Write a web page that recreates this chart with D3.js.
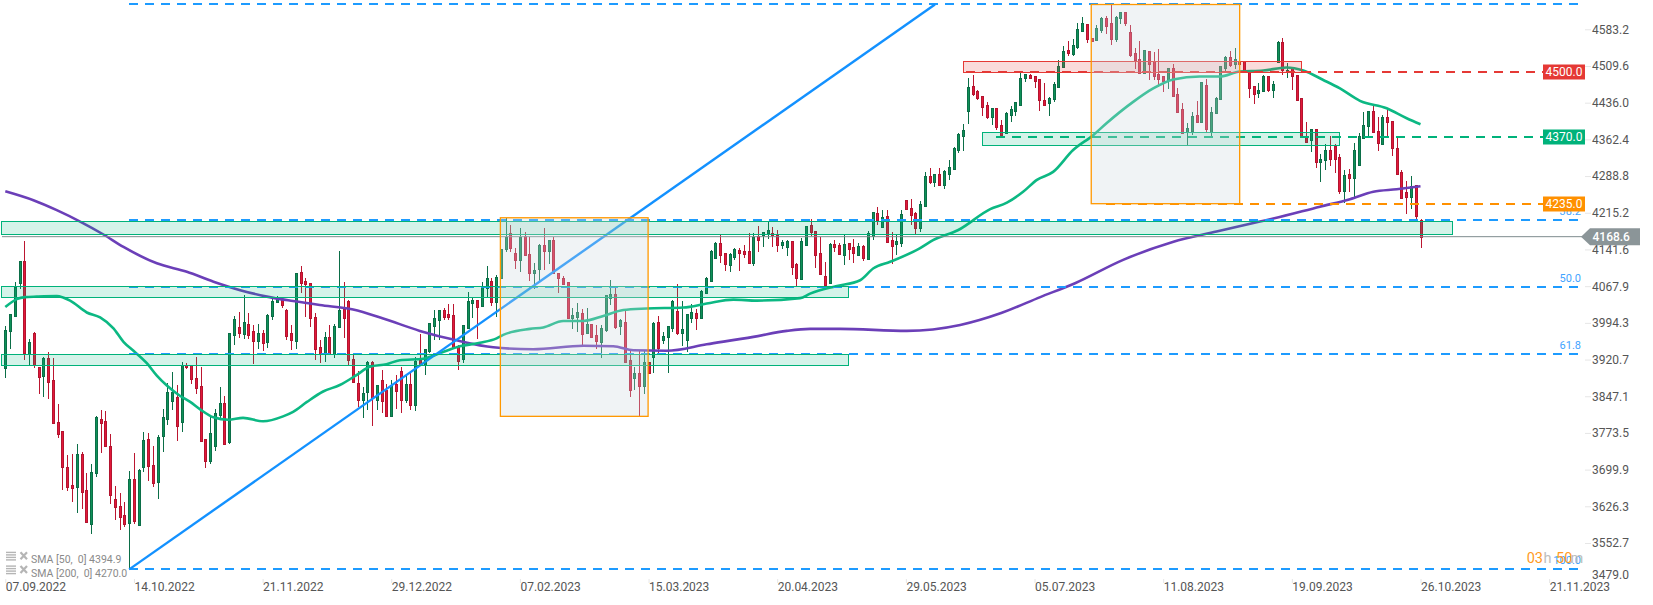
<!DOCTYPE html>
<html><head><meta charset="utf-8">
<style>html,body{margin:0;padding:0;background:#fff;overflow:hidden}svg{display:block}text{font-family:Roboto,sans-serif}</style>
<script src="https://cdn.jsdelivr.net/npm/d3@7"></script>
</head><body><svg id="c" width="1653" height="605"></svg>
<script>
const opens=[3905,3979,4009,4076,4119,3932,3974,3906,3889,3924,
3880,3795,3777,3706,3669,3665,3731,3659,3591,3693,
3801,3797,3747,3640,3626,3608,3593,3681,3589,3705,
3761,3709,3675,3768,3801,3838,3846,3796,3911,3910,
3885,3868,3761,3718,3748,3810,3833,3755,3971,3986,
3973,3992,3978,3959,3974,3957,4008,4038,4041,4022,
3974,3959,4097,4079,4075,4006,3946,3934,3966,3932,
3987,4023,4039,3922,3875,3840,3855,3916,3840,3880,
3860,3808,3872,3898,3840,3872,3830,3920,3910,3938,
3989,4001,4021,4013,4010,3946,3923,3985,4036,4041,
4029,4065,4079,4038,4085,4144,4177,4135,4122,4169,
4133,4096,4104,4151,4140,4161,4095,4085,4077,4005,
4007,4016,3974,3993,3971,3957,3981,4046,4054,3989,
3997,3920,3885,3895,3869,3916,3927,3996,3961,3966,
3984,4020,3975,3960,4005,4014,4005,4056,4079,4125,
4156,4135,4112,4128,4142,4140,4139,4116,4170,4172,
4177,4177,4172,4152,4148,4160,4113,4083,4151,4192,
4181,4135,4089,4076,4153,4152,4132,4155,4147,4132,
4150,4124,4170,4216,4189,4210,4162,4154,4156,4242,
4226,4217,4187,4231,4290,4279,4295,4273,4295,4305,
4343,4372,4422,4472,4462,4451,4434,4410,4427,4393,
4377,4414,4422,4434,4487,4494,4493,4485,4444,4438,
4446,4470,4511,4544,4536,4551,4583,4596,4568,4564,
4584,4608,4598,4566,4609,4621,4581,4538,4526,4499,
4542,4522,4496,4492,4484,4509,4456,4425,4379,4381,
4413,4399,4473,4379,4417,4445,4509,4530,4516,4522,
4523,4501,4471,4458,4462,4492,4464,4521,4560,4501,
4511,4494,4447,4372,4363,4385,4319,4323,4344,4352,
4328,4260,4294,4287,4313,4368,4392,4421,4382,4356,
4409,4401,4348,4298,4258,4249,4273,4203];
const closes=[3981,4012,4068,4119,3935,3956,3910,3887,3924,3877,
3794,3772,3705,3665,3663,3731,3655,3595,3694,3805,
3794,3748,3649,3625,3605,3591,3680,3597,3699,3759,
3708,3673,3765,3805,3855,3855,3788,3911,3907,3883,
3865,3758,3717,3773,3813,3833,3751,3974,4002,3974,
3996,3971,3959,3974,3955,4010,4040,4046,4032,3969,
3961,4095,4076,4073,4005,3943,3932,3966,3934,3989,
4022,4005,3920,3877,3840,3853,3916,3844,3871,3837,
3808,3871,3858,3840,3872,3830,3918,3910,3942,3994,
4004,4021,4007,4007,3947,3919,3990,4039,4041,4027,
4068,4085,4038,4087,4143,4168,4146,4122,4168,4132,
4096,4101,4151,4140,4161,4095,4086,4074,4005,4010,
4017,3973,3993,3967,3959,3984,4051,4054,3986,4001,
3917,3860,3895,3869,3916,3894,3994,3945,3969,3988,
4039,3975,3983,4012,4017,4005,4060,4085,4140,4156,
4132,4114,4134,4143,4136,4134,4116,4168,4162,4179,
4182,4172,4152,4158,4160,4108,4085,4160,4191,4178,
4132,4093,4071,4153,4148,4133,4154,4144,4136,4150,
4126,4177,4218,4202,4209,4157,4150,4160,4215,4224,
4212,4187,4234,4290,4279,4295,4273,4301,4308,4348,
4375,4383,4469,4456,4448,4430,4410,4427,4390,4373,
4417,4425,4439,4489,4496,4489,4482,4444,4433,4448,
4476,4512,4542,4539,4554,4587,4598,4566,4563,4589,
4608,4593,4566,4610,4620,4599,4534,4524,4498,4544,
4516,4492,4486,4482,4509,4452,4419,4377,4387,4411,
4399,4479,4385,4419,4447,4512,4530,4515,4526,4517,
4501,4468,4456,4464,4492,4464,4476,4560,4505,4505,
4493,4444,4370,4360,4385,4319,4324,4344,4325,4325,
4260,4293,4287,4344,4371,4393,4421,4380,4358,4409,
4400,4348,4295,4247,4249,4271,4211,4168.6];
const highs=[3989,4013,4077,4120,4160,3962,3977,3906,3926,3936,
3924,3832,3777,3729,3731,3751,3735,3693,3711,3807,
3820,3818,3771,3667,3653,3634,3696,3733,3701,3775,
3773,3747,3769,3822,3874,3896,3870,3916,3914,3910,
3926,3906,3761,3806,3822,3866,3848,3975,4009,4017,
4051,4014,3991,3992,3981,4013,4043,4049,4047,4023,
3991,4096,4109,4085,4075,4014,3961,3976,3991,3993,
4140,4077,4042,3934,3898,3867,3919,3918,3871,3900,
3873,3881,3890,3907,3890,3897,3927,3972,3942,3994,
4021,4021,4026,4034,4033,3950,3990,4057,4046,4041,
4077,4109,4085,4091,4143,4207,4192,4145,4187,4179,
4168,4116,4153,4186,4161,4167,4095,4090,4077,4025,
4035,4024,4025,3993,3990,3991,4052,4081,4065,4003,
4019,3940,3907,3940,3940,3916,3997,4009,3977,3988,
4042,4073,4039,4012,4033,4024,4061,4087,4142,4158,
4173,4135,4135,4145,4145,4152,4177,4177,4190,4179,
4199,4189,4182,4162,4162,4160,4116,4165,4191,4205,
4181,4168,4117,4155,4162,4155,4172,4155,4164,4155,
4152,4180,4218,4228,4222,4222,4179,4175,4222,4242,
4244,4219,4240,4298,4306,4295,4306,4303,4323,4350,
4377,4395,4487,4494,4464,4451,4439,4427,4427,4403,
4420,4432,4439,4499,4496,4496,4493,4485,4477,4450,
4479,4524,4552,4562,4566,4598,4610,4596,4568,4595,
4610,4613,4635,4613,4620,4621,4595,4548,4562,4544,
4542,4541,4546,4492,4509,4517,4467,4437,4398,4420,
4442,4479,4486,4430,4449,4512,4532,4542,4548,4532,
4523,4501,4471,4477,4494,4492,4482,4563,4568,4518,
4511,4494,4447,4399,4385,4385,4336,4356,4371,4356,
4336,4303,4305,4358,4377,4419,4421,4432,4410,4413,
4424,4401,4370,4303,4281,4291,4273,4205];
const lows=[3884,3942,4007,4063,3920,3910,3905,3852,3846,3842,
3791,3763,3659,3657,3634,3612,3620,3594,3570,3685,
3733,3747,3631,3598,3579,3584,3499,3590,3588,3695,
3677,3665,3641,3736,3789,3820,3758,3776,3902,3872,
3852,3755,3704,3711,3738,3800,3749,3751,3950,3965,
3962,3963,3912,3942,3938,3945,4001,4038,4025,3961,
3940,3942,4056,4006,3987,3920,3915,3916,3934,3924,
3984,3964,3910,3877,3825,3804,3820,3788,3820,3813,
3806,3806,3822,3814,3833,3820,3818,3910,3891,3935,
3960,3960,4001,4001,3944,3900,3914,3982,4005,3962,
4027,4045,4030,4007,4085,4138,4138,4103,4098,4132,
4079,4063,4079,4101,4114,4093,4056,4074,4003,3983,
3977,3949,3973,3965,3942,3925,3977,4031,3982,3971,
3917,3846,3860,3807,3852,3894,3895,3934,3952,3895,
3977,3971,3949,3937,3994,3981,4005,4053,4078,4124,
4116,4099,4098,4122,4099,4125,4114,4109,4138,4148,
4164,4148,4138,4144,4130,4091,4068,4083,4150,4170,
4106,4093,4065,4075,4138,4132,4112,4122,4116,4130,
4120,4122,4162,4192,4187,4155,4114,4132,4148,4222,
4192,4175,4179,4231,4275,4269,4271,4265,4283,4305,
4338,4342,4395,4452,4444,4411,4406,4393,4383,4372,
4375,4400,4412,4434,4480,4489,4468,4422,4433,4411,
4440,4470,4511,4532,4533,4546,4583,4559,4563,4562,
4579,4576,4555,4561,4597,4593,4530,4507,4496,4499,
4484,4484,4470,4460,4466,4450,4417,4377,4352,4373,
4399,4399,4379,4367,4415,4445,4501,4511,4507,4514,
4501,4447,4436,4448,4459,4460,4448,4521,4495,4489,
4464,4444,4370,4360,4340,4307,4279,4303,4311,4297,
4254,4237,4258,4246,4313,4368,4370,4380,4341,4356,
4370,4332,4293,4247,4214,4224,4204,4146];

const sma50Idx=[0,2.4,4.1,6.6,10.8,13.6,17.1,19.9,22.7,24.8,26.9,29.7,31.8,33.9,36.7,38.8,40.9,43.7,46.8,49.9,54.1,58.3,60.4,63.3,66.7,70.2,73.7,76.5,80,82.8,87.7,91.2,95.4,99.6,103.1,104.5,110.1,112.9,117.1,121.3,125.5,129.7,134.6,142.3,147.2,152.8,157.7,166.8,168.9,174.3,179.4,182.2,185.7,191.9,194.8,200,206.7,210.2,213.6,216.5,219.9,224.1,228.3,231.1,236.7,240.9,245.1,250.7,254.9,259.1,264,268.9,272.4,276.6,280.1,284.3,289.9,294.1,297];
const sma50=[4027,4043,4047,4048,4049,4040,4016,4006,3984,3957,3939,3914,3889,3869,3848,3836,3821,3805,3800,3804,3797,3807,3816,3836,3857,3870,3890,3907,3912,3920,3923,3934,3948,3955,3964,3971,3983,3986,3999,3999,4009,4021,4024,4026,4034,4042,4040,4045,4054,4069,4081,4105,4118,4145,4162,4182,4224,4237,4259,4283,4299,4343,4373,4397,4440,4467,4485,4491,4491,4501,4503,4509,4503,4484,4467,4442,4427,4407,4394.9];
const sma200Idx=[0,5.9,10.8,15.7,20.6,24.8,31.8,38.1,43.7,49.3,54.9,60.4,66,73,79.3,87,94.7,102.4,110.8,121.3,127.6,131.8,138.8,147.2,157,164,168.9,175.2,189.2,200.4,209,217.2,224.5,234.6,245,254.2,263.3,266.1,275.9,282.2,287.1,292,297];
const sma200=[4260,4242,4222,4199,4173,4148,4115,4098,4078,4061,4048,4039,4031,4022,4004,3979,3960,3946,3942,3949,3948,3940,3939,3952,3967,3979,3983,3983,3979,3991,4015,4047,4075,4122,4158,4179,4199,4205,4229,4244,4259,4264,4270];

const priceTicks=[4583.2,4509.6,4436.0,4362.4,4288.8,4215.2,4141.6,4067.9,3994.3,3920.7,3847.1,3773.5,3699.9,3626.3,3552.7,3479.0];
const dateTickIdx=[0,27,54,81,108,135,162,189,216,243,270,297,324];
const dateLabels=["07.09.2022","14.10.2022","21.11.2022","29.12.2022","07.02.2023","15.03.2023","20.04.2023","29.05.2023","05.07.2023","11.08.2023","19.09.2023","26.10.2023","21.11.2023"];
const fibLevels=[4636,4202,4068,3933,3499];
const fibLabels=["", "38.2","50.0","61.8","100.0"];
const trendIdx=[26,195.1];
const trendPrice=[3499,4636];
const zoneFrom=[-0.7,-0.7,-0.7,205];
const zoneTo=[303.8,176.9,176.9,280];
const zoneHi=[4200,4068.6,3931.6,4378.6];
const zoneLo=[4172.9,4046.3,3909.4,4352];
const redZone=[201,272,4521.5,4499.4];
const boxFrom=[103.9,227.9];
const boxTo=[134.9,259.05];
const boxHi=[4206.7,4635.9];
const boxLo=[3807,4235];
const alertPrices=[4500,4370,4235];
const alertStart=[201.6,207.9,231];
const alertColors=["#e53935","#00b27a","#ff9000"];
const lastPrice=4168.6;
const legendNames=["SMA [50,  0] 4394.9","SMA [200,  0] 4270.0"];

const svg=d3.select("#c");
const x=d3.scaleLinear().domain([0,297]).range([5.3,1420.5]);
const y=d3.scaleLinear().domain([3479,4583.2]).range([579.3,30.7]);
const yLabels=d3.scaleLinear().domain([3552.7,4583.2]).range([543,29.3]);
const UP="#0e9158",UPD="#0b6e47",DN="#e2183a",DND="#b3142f";

// candles
const gc=svg.append("g").attr("shape-rendering","crispEdges");
opens.forEach((o,i)=>{
  const c=closes[i],up=c>=o,px=Math.round(x(i));
  gc.append("line").attr("x1",px+.5).attr("x2",px+.5).attr("y1",y(highs[i])).attr("y2",y(lows[i]))
    .attr("stroke",up?UPD:"#bb1630").attr("stroke-width",1);
  const t=Math.round(y(Math.max(o,c))),b=Math.round(y(Math.min(o,c)));
  gc.append("rect").attr("x",px-.5).attr("width",2).attr("y",t+.5).attr("height",Math.max(b-t,1))
    .attr("fill",up?UP:DN).attr("stroke",up?UPD:DND).attr("stroke-width",1);
});

// moving averages
const lineOf=(idx,vals)=>d3.line().x(d=>x(d[0])).y(d=>y(d[1])).curve(d3.curveMonotoneX)(idx.map((v,i)=>[v,vals[i]]));
svg.append("path").attr("d",lineOf(sma200Idx,sma200)).attr("fill","none").attr("stroke","#6b3fb8").attr("stroke-width",2.6);
svg.append("path").attr("d",lineOf(sma50Idx,sma50)).attr("fill","none").attr("stroke","#0cb883").attr("stroke-width",2.6);

// fibonacci
const FIB="#1d9bff";
const fibEnd=330.1;
svg.append("g").attr("shape-rendering","crispEdges").selectAll("line").data(fibLevels).join("line")
  .attr("x1",x(26)).attr("x2",x(fibEnd)).attr("y1",d=>Math.round(y(d))).attr("y2",d=>Math.round(y(d)))
  .attr("stroke",FIB).attr("stroke-width",2).attr("stroke-dasharray","9 7");
svg.append("line").attr("x1",x(trendIdx[0])).attr("y1",y(trendPrice[0])).attr("x2",x(trendIdx[1])).attr("y2",y(trendPrice[1]))
  .attr("stroke","#1391ff").attr("stroke-width",2.4);
svg.append("g").selectAll("text").data(fibLevels.map((d,i)=>[d,fibLabels[i]])).join("text")
  .attr("x",1581).attr("y",d=>y(d[0])-8).attr("text-anchor","end").attr("font-size",11).attr("dominant-baseline","middle")
  .attr("fill","#3fa3ff").text(d=>d[1]);

// alert dashed
alertPrices.forEach((p,i)=>{
  const yy=Math.round(y(p)+.4);
  svg.append("line").attr("shape-rendering","crispEdges").attr("x1",x(alertStart[i])).attr("x2",1543).attr("y1",yy).attr("y2",yy)
    .attr("stroke",alertColors[i]).attr("stroke-width",2).attr("stroke-dasharray","9 7");
});

// last price line
svg.append("line").attr("x1",x(-0.7)).attr("x2",1582).attr("y1",y(lastPrice)).attr("y2",y(lastPrice))
  .attr("stroke","#7e8b8e").attr("stroke-width",1);

// zones
const gz=svg.append("g").attr("shape-rendering","crispEdges");
zoneFrom.forEach((f,i)=>{
  gz.append("rect").attr("x",x(f)).attr("width",x(zoneTo[i])-x(f)).attr("y",y(zoneHi[i])).attr("height",y(zoneLo[i])-y(zoneHi[i]))
    .attr("fill","rgba(0,185,125,0.17)").attr("stroke","#00b27a").attr("stroke-width",1);
});
gz.append("rect").attr("x",x(redZone[0])).attr("width",x(redZone[1])-x(redZone[0])).attr("y",y(redZone[2])).attr("height",y(redZone[3])-y(redZone[2]))
  .attr("fill","rgba(229,57,53,0.18)").attr("stroke","#e53935").attr("stroke-width",1);
boxFrom.forEach((f,i)=>{
  svg.append("rect").attr("x",x(f)).attr("width",x(boxTo[i])-x(f)).attr("y",y(boxHi[i])).attr("height",y(boxLo[i])-y(boxHi[i]))
    .attr("fill","rgba(205,216,223,0.3)").attr("stroke","#ff9800").attr("stroke-width",1.3);
});

// axes
const ya=d3.axisRight(yLabels).tickValues(priceTicks).tickFormat(d3.format(".1f")).tickSize(6).tickPadding(1);
const gy=svg.append("g").attr("transform","translate(1585,0)").call(ya);
gy.select(".domain").remove();
gy.selectAll(".tick line").attr("stroke","#e6e6e6");
gy.selectAll(".tick text").attr("font-size",12).attr("font-family","Roboto").attr("fill","#555");
gy.selectAll(".tick").filter(d=>d===3479).attr("transform","translate(0,575)").select("line").remove();
const xa=d3.axisBottom(x).tickValues(dateTickIdx).tickFormat((d,i)=>dateLabels[i]).tickSize(4).tickPadding(-1);
const gx=svg.append("g").attr("transform","translate(0,579)").call(xa);
gx.select(".domain").remove();
gx.selectAll(".tick line").attr("stroke","#e6e6e6");
gx.selectAll(".tick text").attr("font-size",12).attr("font-family","Roboto").attr("fill","#555").attr("text-anchor","start");

// alert labels
alertPrices.forEach((p,i)=>{
  const yy=Math.round(y(p)+.4);
  svg.append("rect").attr("x",1543).attr("y",yy-7.5).attr("width",42).attr("height",15).attr("fill",alertColors[i]);
  svg.append("text").attr("x",1564).attr("y",yy).attr("text-anchor","middle").attr("dominant-baseline","central")
    .attr("font-size",12).attr("fill","#fff").text(d3.format(".1f")(p));
});
// last price tag
const ly=y(lastPrice);
svg.append("polygon").attr("points",[[1581,ly],[1590,ly-8.5],[1640,ly-8.5],[1640,ly+8.5],[1590,ly+8.5]].join(" ")).attr("fill","#8b9598");
svg.append("text").attr("x",1592.5).attr("y",ly).attr("dominant-baseline","central").attr("font-size",12).attr("font-weight",500)
  .attr("fill","#fff").text(d3.format(".1f")(lastPrice));

// legend
legendNames.forEach((t,i)=>{
  const yy=559.7+i*13.7;
  const g=svg.append("g").attr("fill","#b5b5b5");
  [-8,-5.5,-3,-.5].forEach(o=>g.append("rect").attr("x",6).attr("y",yy+o).attr("width",10).attr("height",1.4));
  svg.append("path").attr("d",`M20.5 ${yy-7.5} L27 ${yy-.5} M27 ${yy-7.5} L20.5 ${yy-.5}`).attr("stroke","#b5b5b5").attr("stroke-width",2.2).attr("fill","none");
  svg.append("text").attr("x",31).attr("y",yy+.5).attr("dominant-baseline","middle").attr("font-size",10.5).attr("fill","#8a8a8a").style("white-space","pre").text(t);
});

// session countdown watermark
const wm=[["03",1526.7,"#ff9a1f"],["h",1543.5,"#bdbdbd"],["50",1556,"#ff9a1f"],["m",1570.5,"#bdbdbd"]];
wm.forEach(d=>svg.append("text").attr("x",d[1]).attr("y",559).attr("dominant-baseline","middle").attr("font-size",14.5).attr("fill",d[2]).text(d[0]));
</script></body></html>
